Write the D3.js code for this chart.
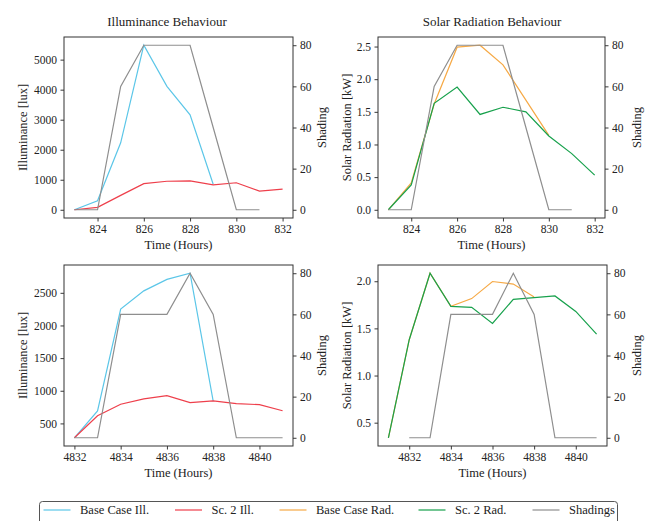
<!DOCTYPE html>
<html><head><meta charset="utf-8">
<script src="https://cdn.jsdelivr.net/npm/d3@7"></script>
<style>
body{margin:0;background:#fff;}
svg{display:block;font-family:"Liberation Serif","Times New Roman",serif;}
</style></head>
<body><svg id="c" width="649" height="521"></svg>
<script>
// ---- data ----
const hoursTop = [823,824,825,826,827,828,829,830,831,832];
const baseIllTop = [0,300,2230,5480,4110,3160,850];
const sc2IllTop = [0,80,480,870,950,960,830,900,620,690];
const shadeTop = [0,0,60,80,80,80,40,0,0];
const baseRadTop = [0,0.41,1.62,2.49,2.52,2.22,1.68,1.14];
const sc2RadTop = [0,0.38,1.63,1.88,1.46,1.57,1.50,1.13,0.86,0.53];

const hoursIllBot = [4832,4833,4834,4835,4836,4837,4838,4839,4840,4841];
const baseIllBot = [280,690,2250,2530,2705,2800,840];
const sc2IllBot = [280,617,793,875,925,818,844,803,787,694];
const shadeIllBot = [0,0,60,60,60,80,60,0,0,0];

const hoursRadBot = [4831,4832,4833,4834,4835,4836,4837,4838,4839,4840,4841];
const baseRadBot = [0.34,1.38,2.085,1.734,1.816,1.997,1.97,1.833];
const sc2RadBot = [0.34,1.38,2.085,1.734,1.723,1.553,1.808,1.827,1.844,1.68,1.44];
const shadeRadBot = [0,0,60,60,60,80,60,0,0,0]; // starts at 4832

const legendLabels = ["Base Case Ill.","Sc. 2 Ill.","Base Case Rad.","Sc. 2 Rad.","Shadings"];
const colors = {baseIll:"#5bc6e8", sc2Ill:"#ee3f4b", baseRad:"#f6a945", sc2Rad:"#17a14c", shade:"#8e8e8e"};

const svg = d3.select("#c");
const FONT_TICK = 11.5, FONT_LAB = 12.5;

function pad(ext){ const r = ext[1]-ext[0]; return [ext[0]-0.05*r, ext[1]+0.05*r]; }
function pts(xs, ys, off=0){ return ys.map((v,i)=>[xs[i+off], v]); }

function panel(opt){
  const {x0,x1,y0,y1} = opt.box;
  const allX = opt.left.concat(opt.right).flatMap(s=>s.data.map(d=>d[0]));
  const x = d3.scaleLinear().domain(pad(d3.extent(allX))).range([x0,x1]);
  const yL = d3.scaleLinear().domain(pad(d3.extent(opt.left.flatMap(s=>s.data.map(d=>d[1]))))).range([y1,y0]);
  const yR = d3.scaleLinear().domain(pad(d3.extent(opt.right.flatMap(s=>s.data.map(d=>d[1]))))).range([y1,y0]);
  const g = svg.append("g");
  const line = (ys)=>d3.line().x(d=>x(d[0])).y(d=>ys(d[1]));
  opt.left.forEach(s=>g.append("path").attr("d",line(yL)(s.data)).attr("fill","none").attr("stroke",s.color).attr("stroke-width",1.2));
  opt.right.forEach(s=>g.append("path").attr("d",line(yR)(s.data)).attr("fill","none").attr("stroke",s.color).attr("stroke-width",1.2));
  const style = sel=>{ sel.selectAll("path.domain").remove(); sel.selectAll("line").attr("stroke","#222").attr("stroke-width",0.9);
    sel.selectAll("text").attr("font-size",FONT_TICK).attr("fill","#222").attr("font-family","Liberation Serif, serif"); };
  g.append("g").attr("transform",`translate(0,${y1})`).call(d3.axisBottom(x).tickValues(opt.xticks).tickSize(3.5).tickPadding(3.5).tickFormat(d3.format("d"))).call(style);
  g.append("g").attr("transform",`translate(${x0},0)`).call(d3.axisLeft(yL).tickValues(opt.lticks).tickSize(3.5).tickPadding(3.5).tickFormat(opt.lfmt)).call(style);
  g.append("g").attr("transform",`translate(${x1},0)`).call(d3.axisRight(yR).tickValues([0,20,40,60,80]).tickSize(3.5).tickPadding(3.5).tickFormat(d3.format("d"))).call(style);
  g.append("rect").attr("x",x0).attr("y",y0).attr("width",x1-x0).attr("height",y1-y0).attr("fill","none").attr("stroke","#333").attr("stroke-width",1);
  const cy=(y0+y1)/2;
  g.append("text").attr("transform",`translate(${opt.llx},${cy}) rotate(-90)`).attr("text-anchor","middle").attr("dominant-baseline","central").attr("font-size",FONT_LAB).attr("fill","#222").text(opt.ylabel);
  g.append("text").attr("transform",`translate(${opt.rlx},${cy}) rotate(-90)`).attr("text-anchor","middle").attr("dominant-baseline","central").attr("font-size",FONT_LAB).attr("fill","#222").text("Shading");
  g.append("text").attr("x",(x0+x1)/2).attr("y",y1+27).attr("text-anchor","middle").attr("dominant-baseline","central").attr("font-size",FONT_LAB).attr("fill","#222").text("Time (Hours)");
}

panel({box:{x0:64,x1:293,y0:37,y1:218}, ylabel:"Illuminance [lux]", llx:23, rlx:322,
  xticks:[824,826,828,830,832], lticks:[0,1000,2000,3000,4000,5000], lfmt:d3.format("d"),
  left:[{data:pts(hoursTop,baseIllTop),color:colors.baseIll},{data:pts(hoursTop,sc2IllTop),color:colors.sc2Ill}],
  right:[{data:pts(hoursTop,shadeTop),color:colors.shade}]});
panel({box:{x0:378,x1:605,y0:37,y1:218}, ylabel:"Solar Radiation [kW]", llx:347, rlx:637,
  xticks:[824,826,828,830,832], lticks:[0,0.5,1,1.5,2,2.5], lfmt:d3.format(".1f"),
  left:[{data:pts(hoursTop,baseRadTop),color:colors.baseRad},{data:pts(hoursTop,sc2RadTop),color:colors.sc2Rad}],
  right:[{data:pts(hoursTop,shadeTop),color:colors.shade}]});
panel({box:{x0:64,x1:293,y0:265,y1:446}, ylabel:"Illuminance [lux]", llx:23, rlx:322,
  xticks:[4832,4834,4836,4838,4840], lticks:[500,1000,1500,2000,2500], lfmt:d3.format("d"),
  left:[{data:pts(hoursIllBot,baseIllBot),color:colors.baseIll},{data:pts(hoursIllBot,sc2IllBot),color:colors.sc2Ill}],
  right:[{data:pts(hoursIllBot,shadeIllBot),color:colors.shade}]});
panel({box:{x0:378,x1:607,y0:265,y1:446}, ylabel:"Solar Radiation [kW]", llx:347, rlx:637,
  xticks:[4832,4834,4836,4838,4840], lticks:[0.5,1,1.5,2], lfmt:d3.format(".1f"),
  left:[{data:pts(hoursRadBot,baseRadBot),color:colors.baseRad},{data:pts(hoursRadBot,sc2RadBot),color:colors.sc2Rad}],
  right:[{data:pts(hoursRadBot,shadeRadBot,1),color:colors.shade}]});

// titles
svg.append("text").attr("x",167).attr("y",21).attr("text-anchor","middle").attr("dominant-baseline","central").attr("font-size",13).attr("fill","#222").text("Illuminance Behaviour");
svg.append("text").attr("x",492).attr("y",21).attr("text-anchor","middle").attr("dominant-baseline","central").attr("font-size",13).attr("fill","#222").text("Solar Radiation Behaviour");

// legend
const lg = svg.append("g");
lg.append("rect").attr("x",39.5).attr("y",501.5).attr("width",578).attr("height",30).attr("rx",3).attr("fill","#fff").attr("stroke","#555").attr("stroke-width",1);
const legColors=[colors.baseIll,colors.sc2Ill,colors.baseRad,colors.sc2Rad,colors.shade];
const lineX=[43.5,175,279.5,418.5,532.5];
legendLabels.forEach((t,i)=>{
  lg.append("line").attr("x1",lineX[i]).attr("x2",lineX[i]+27).attr("y1",510).attr("y2",510).attr("stroke",legColors[i]).attr("stroke-width",1.2);
  lg.append("text").attr("x",lineX[i]+36.5).attr("y",510).attr("dominant-baseline","central").attr("font-size",12.5).attr("fill","#222").text(t);
});
</script></body></html>
